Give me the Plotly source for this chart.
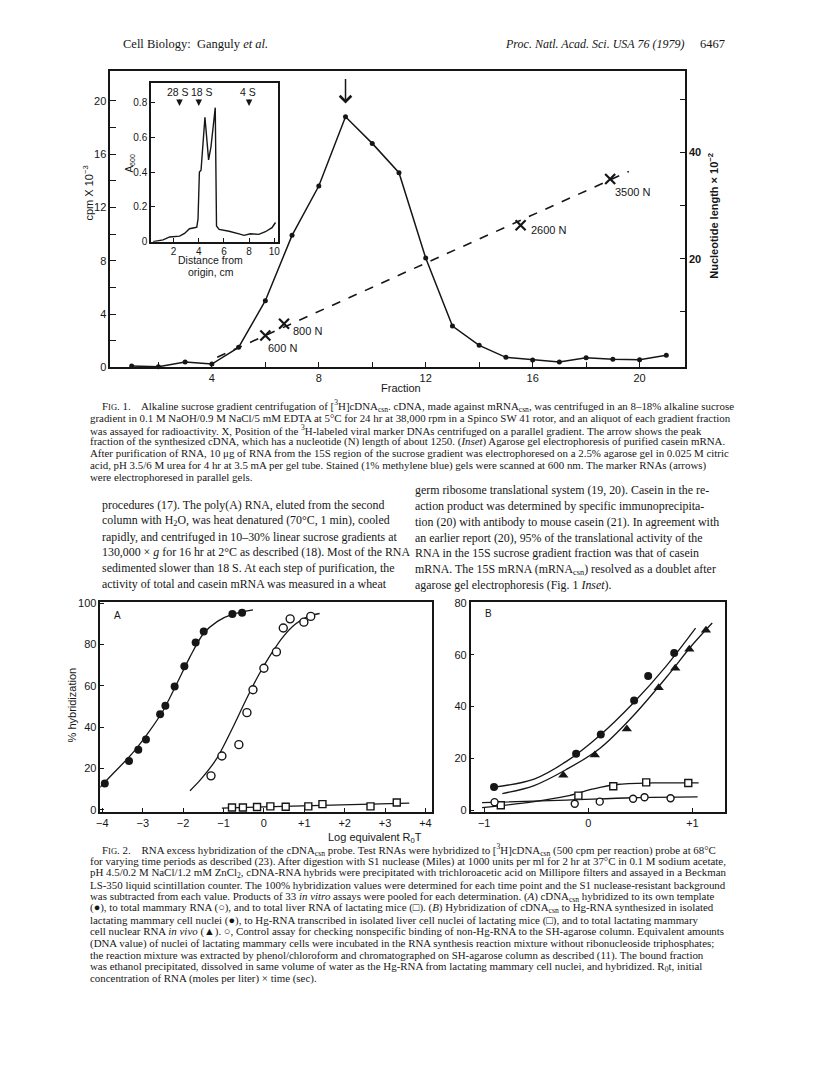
import plotly.graph_objects as go

W, H = 816, 1078
OFF = 8  # page body margin of the html output
INK = "#161616"
SANS = "Liberation Sans"
SERIF = "Liberation Serif"

# ---- Fig. 1: alkaline sucrose gradient ----
fraction = [1, 2, 3, 4, 5, 6, 7, 8, 9, 10, 11, 12, 13, 14, 15, 16, 17, 18, 19, 20, 21]
cpm = [0.1, 0.05, 0.4, 0.25, 1.5, 5.0, 9.9, 13.6, 18.8, 16.8, 14.6, 8.2, 3.1, 1.65,
       0.75, 0.55, 0.4, 0.72, 0.6, 0.57, 0.9]

marker_fraction = [6.0, 6.7, 15.55, 18.9]
marker_length = [5.6, 7.8, 26.3, 35.0]          # nucleotide length x 10^-2
marker_labels = ["600 N", "800 N", "2600 N", "3500 N"]
fit_fraction = [4.2, 19.6]
fit_length = [1.5, 36.4]

peak_fraction = 9

# inset: agarose gel scan
gel_distance = [0.37, 1.16, 1.69, 2.47, 2.87, 3.26, 3.65, 3.84, 3.94, 4.05, 4.18, 4.49,
                4.78, 4.97, 5.31, 5.41, 5.62, 6.41, 7.2, 7.6, 8.1, 8.77, 9.3, 9.82, 10.1]
gel_a600 = [0.0, 0.01, 0.027, 0.032, 0.047, 0.074, 0.08, 0.083, 0.13, 0.40, 0.41, 0.715,
            0.47, 0.545, 0.77, 0.09, 0.07, 0.06, 0.045, 0.036, 0.045, 0.042, 0.057, 0.08, 0.11]
rna_markers = ["28 S", "18 S", "4 S"]
rna_label_pos = [2.34, 4.23, 7.94]
rna_marker_pos = [2.47, 4.0, 8.0]

# ---- Fig. 2A ----
a_template_x = [-3.94, -3.34, -3.11, -2.92, -2.57, -2.44, -2.21, -1.97, -1.69, -1.49, -0.78, -0.54]
a_template_y = [12.7, 23.6, 29.0, 34.0, 46.2, 50.3, 59.6, 69.4, 81.0, 86.3, 94.7, 95.4]
a_template_fit_x = [-4.08, -3.71, -3.27, -2.83, -2.5, -2.17, -1.83, -1.5, -1.15, -0.77, -0.27]
a_template_fit_y = [10.4, 18.0, 27.0, 38.2, 47.8, 60.5, 74.0, 85.2, 91.2, 94.7, 96.8]

a_mammary_x = [-1.31, -1.04, -0.62, -0.42, -0.27, 0.0, 0.31, 0.48, 0.65, 0.99, 1.16]
a_mammary_y = [16.4, 26.0, 31.5, 47.0, 58.1, 68.5, 76.4, 88.0, 92.4, 90.8, 93.6]
a_mammary_fit_x = [-1.83, -1.58, -1.17, -0.77, -0.46, -0.15, 0.16, 0.47, 0.79, 1.1, 1.38]
a_mammary_fit_y = [9.2, 14.3, 24.7, 39.8, 52.5, 64.5, 74.8, 83.6, 90.0, 93.6, 95.0]

a_liver_x = [-0.79, -0.52, -0.17, 0.16, 0.54, 1.1, 1.45, 2.64, 3.29]
a_liver_y = [1.1, 1.1, 1.3, 1.6, 1.4, 1.6, 2.7, 1.6, 3.5]
a_liver_fit_x = [-1.04, 3.6]
a_liver_fit_y = [0.8, 3.2]

# ---- Fig. 2B ----
b_mammary_x = [-0.905, -0.117, 0.12, 0.44, 0.575, 0.825]
b_mammary_y = [9.0, 21.8, 29.3, 42.3, 51.8, 60.6]
b_mammary_fit_x = [-0.905, -0.52, -0.21, 0.11, 0.43, 0.75, 1.03]
b_mammary_fit_y = [9.0, 12.1, 18.9, 28.9, 41.3, 55.7, 70.2]

b_invivo_x = [-0.24, 0.063, 0.37, 0.676, 0.835, 0.97, 1.13]
b_invivo_y = [13.6, 21.4, 31.4, 47.3, 54.8, 62.1, 69.4]
b_invivo_fit_x = [-0.825, -0.52, -0.21, 0.11, 0.43, 0.75, 1.0, 1.19]
b_invivo_fit_y = [6.5, 9.6, 15.8, 23.9, 36.4, 51.3, 63.8, 72.2]

b_liver_x = [-0.84, -0.095, 0.24, 0.556, 0.96]
b_liver_y = [2.0, 5.7, 9.3, 10.8, 10.6]
b_liver_fit_x = [-1.02, -0.52, -0.21, 0.048, 0.27, 0.62, 1.06]
b_liver_fit_y = [1.1, 3.4, 5.5, 8.3, 10.0, 10.6, 10.6]

b_control_x = [-0.9, -0.13, 0.11, 0.43, 0.54, 0.79]
b_control_y = [3.2, 2.6, 3.4, 4.5, 5.1, 4.7]
b_control_fit_x = [-1.02, -0.21, 0.43, 1.05]
b_control_fit_y = [3.0, 4.0, 4.9, 5.2]

# ---- page text ----
fig1_caption = [
    "F<span style='font-size:8.5px'>IG</span>. 1.    Alkaline sucrose gradient centrifugation of [<sup>3</sup>H]cDNA<sub>csn</sub>. cDNA, made against mRNA<sub>csn</sub>, was centrifuged in an 8–18% alkaline sucrose",
    "gradient in 0.1 M NaOH/0.9 M NaCl/5 mM EDTA at 5°C for 24 hr at 38,000 rpm in a Spinco SW 41 rotor, and an aliquot of each gradient fraction",
    "was assayed for radioactivity. X, Position of the <sup>3</sup>H-labeled viral marker DNAs centrifuged on a parallel gradient. The arrow shows the peak",
    "fraction of the synthesized cDNA, which has a nucleotide (N) length of about 1250. (<i>Inset</i>) Agarose gel electrophoresis of purified casein mRNA.",
    "After purification of RNA, 10 μg of RNA from the 15S region of the sucrose gradient was electrophoresed on a 2.5% agarose gel in 0.025 M citric",
    "acid, pH 3.5/6 M urea for 4 hr at 3.5 mA per gel tube. Stained (1% methylene blue) gels were scanned at 600 nm. The marker RNAs (arrows)",
    "were electrophoresed in parallel gels.",
]
body_left = [
    "procedures (17). The poly(A) RNA, eluted from the second",
    "column with H<sub>2</sub>O, was heat denatured (70°C, 1 min), cooled",
    "rapidly, and centrifuged in 10–30% linear sucrose gradients at",
    "130,000 × <i>g</i> for 16 hr at 2°C as described (18). Most of the RNA",
    "sedimented slower than 18 S. At each step of purification, the",
    "activity of total and casein mRNA was measured in a wheat",
]
body_right = [
    "germ ribosome translational system (19, 20). Casein in the re-",
    "action product was determined by specific immunoprecipita-",
    "tion (20) with antibody to mouse casein (21). In agreement with",
    "an earlier report (20), 95% of the translational activity of the",
    "RNA in the 15S sucrose gradient fraction was that of casein",
    "mRNA. The 15S mRNA (mRNA<sub>csn</sub>) resolved as a doublet after",
    "agarose gel electrophoresis (Fig. 1 <i>Inset</i>).",
]
fig2_caption = [
    "F<span style='font-size:8.5px'>IG</span>. 2.    RNA excess hybridization of the cDNA<sub>csn</sub> probe. Test RNAs were hybridized to [<sup>3</sup>H]cDNA<sub>csn</sub> (500 cpm per reaction) probe at 68°C",
    "for varying time periods as described (23). After digestion with S1 nuclease (Miles) at 1000 units per ml for 2 hr at 37°C in 0.1 M sodium acetate,",
    "pH 4.5/0.2 M NaCl/1.2 mM ZnCl<sub>2</sub>, cDNA-RNA hybrids were precipitated with trichloroacetic acid on Millipore filters and assayed in a Beckman",
    "LS-350 liquid scintillation counter. The 100% hybridization values were determined for each time point and the S1 nuclease-resistant background",
    "was subtracted from each value. Products of 33 <i>in vitro</i> assays were pooled for each determination. (<i>A</i>) cDNA<sub>csn</sub> hybridized to its own template",
    "(●), to total mammary RNA (○), and to total liver RNA of lactating mice (□). (<i>B</i>) Hybridization of cDNA<sub>csn</sub> to Hg-RNA synthesized in isolated",
    "lactating mammary cell nuclei (●), to Hg-RNA transcribed in isolated liver cell nuclei of lactating mice (□), and to total lactating mammary",
    "cell nuclear RNA <i>in vivo</i> (▲). ○, Control assay for checking nonspecific binding of non-Hg-RNA to the SH-agarose column. Equivalent amounts",
    "(DNA value) of nuclei of lactating mammary cells were incubated in the RNA synthesis reaction mixture without ribonucleoside triphosphates;",
    "the reaction mixture was extracted by phenol/chloroform and chromatographed on SH-agarose column as described (11). The bound fraction",
    "was ethanol precipitated, dissolved in same volume of water as the Hg-RNA from lactating mammary cell nuclei, and hybridized. R<sub>0</sub>t, initial",
    "concentration of RNA (moles per liter) × time (sec).",
]


def px(x):
    return (x - OFF) / W


def py(y):
    return 1 - (y - OFF) / H


fig = go.Figure()

# Fig. 1 main
fig.add_trace(go.Scatter(x=fraction, y=cpm, mode="lines+markers", xaxis="x", yaxis="y",
                         line=dict(color=INK, width=1.5), marker=dict(size=5, color=INK),
                         cliponaxis=False))
fig.add_trace(go.Scatter(x=fit_fraction, y=fit_length, mode="lines", xaxis="x", yaxis="y2",
                         line=dict(color=INK, width=1.6, dash="dash")))
fig.add_trace(go.Scatter(x=marker_fraction, y=marker_length, mode="markers", xaxis="x", yaxis="y2",
                         marker=dict(symbol="x-thin", size=10, line=dict(color=INK, width=2.2))))

# inset
fig.add_trace(go.Scatter(x=gel_distance, y=gel_a600, mode="lines", xaxis="x3", yaxis="y3",
                         line=dict(color=INK, width=1.4)))

# Fig. 2A
for fx, fy in [(a_template_fit_x, a_template_fit_y), (a_mammary_fit_x, a_mammary_fit_y),
               (a_liver_fit_x, a_liver_fit_y)]:
    fig.add_trace(go.Scatter(x=fx, y=fy, mode="lines", xaxis="x4", yaxis="y4",
                             line=dict(color=INK, width=1.3, shape="spline", smoothing=0.8)))
fig.add_trace(go.Scatter(x=a_template_x, y=a_template_y, mode="markers", xaxis="x4", yaxis="y4",
                         marker=dict(symbol="circle", size=8, color=INK)))
fig.add_trace(go.Scatter(x=a_mammary_x, y=a_mammary_y, mode="markers", xaxis="x4", yaxis="y4",
                         marker=dict(symbol="circle", size=8, color="white", line=dict(color=INK, width=1.4))))
fig.add_trace(go.Scatter(x=a_liver_x, y=a_liver_y, mode="markers", xaxis="x4", yaxis="y4", cliponaxis=False,
                         marker=dict(symbol="square", size=7, color="white", line=dict(color=INK, width=1.4))))

# Fig. 2B
for fx, fy in [(b_mammary_fit_x, b_mammary_fit_y), (b_invivo_fit_x, b_invivo_fit_y),
               (b_liver_fit_x, b_liver_fit_y), (b_control_fit_x, b_control_fit_y)]:
    fig.add_trace(go.Scatter(x=fx, y=fy, mode="lines", xaxis="x5", yaxis="y5",
                             line=dict(color=INK, width=1.3, shape="spline", smoothing=1.0)))
fig.add_trace(go.Scatter(x=b_mammary_x, y=b_mammary_y, mode="markers", xaxis="x5", yaxis="y5",
                         marker=dict(symbol="circle", size=8, color=INK)))
fig.add_trace(go.Scatter(x=b_invivo_x, y=b_invivo_y, mode="markers", xaxis="x5", yaxis="y5",
                         marker=dict(symbol="triangle-up", size=9, color=INK)))
fig.add_trace(go.Scatter(x=b_liver_x, y=b_liver_y, mode="markers", xaxis="x5", yaxis="y5",
                         marker=dict(symbol="square", size=7, color="white", line=dict(color=INK, width=1.4))))
fig.add_trace(go.Scatter(x=b_control_x, y=b_control_y, mode="markers", xaxis="x5", yaxis="y5",
                         marker=dict(symbol="circle", size=7, color="white", line=dict(color=INK, width=1.4))))

tickfont = dict(family=SANS, size=11, color=INK)


def axis(domain, rng, tickvals, ticktext, anchor, ticklen=6, **kw):
    d = dict(domain=domain, range=rng, tickvals=tickvals, ticktext=ticktext, anchor=anchor,
             ticks="inside", ticklen=ticklen, tickwidth=1.3, tickcolor=INK,
             showline=True, linecolor=INK, linewidth=1.5, showgrid=False, zeroline=False,
             tickfont=tickfont)
    d.update(kw)
    return d


f1x = [px(107), px(686)]
f1y = [py(366), py(67)]
inx = [px(148), px(276)]
iny = [py(239), py(79)]
ax_ = [px(97), px(431)]
bx_ = [px(470), px(726)]
f2y = [py(815), py(603)]
small = dict(family=SANS, size=10, color=INK)

fig.update_layout(
    width=W, height=H, autosize=False, showlegend=False,
    margin=dict(l=0, r=0, t=0, b=0),
    paper_bgcolor="white", plot_bgcolor="rgba(0,0,0,0)",
    xaxis=axis(f1x, [0.2, 21.7], list(range(2, 22, 2)),
               [str(v) if v % 4 == 0 else "" for v in range(2, 22, 2)], "y", mirror=True),
    yaxis=axis(f1y, [0, 22.2], list(range(0, 22, 2)),
               [str(v) if v % 4 == 0 else "" for v in range(0, 22, 2)], "x"),
    yaxis2=axis(f1y, [-0.4, 55.2], [10, 20, 30, 40, 50], ["", "20", "", "40", ""], "x",
                overlaying="y", side="right", ticklen=5,
                tickfont=dict(family=SANS, size=11, color=INK, weight="bold")),
    xaxis3=axis(inx, [0.2, 10.3], [2, 4, 6, 8, 10], ["2", "4", "6", "8", "10"], "y3",
                mirror=True, ticklen=4, tickfont=small),
    yaxis3=axis(iny, [0, 0.91], [0, 0.2, 0.4, 0.6, 0.8], ["0", "0.2", "0.4", "0.6", "0.8"], "x3",
                mirror=True, ticklen=4, tickfont=small),
    xaxis4=axis(ax_, [-4.05, 4.16], list(range(-4, 5)),
                ["−4", "−3", "−2", "−1", "0", "+1", "+2", "+3", "+4"], "y4", mirror=True, ticklen=4),
    yaxis4=axis(f2y, [-1, 100.6], [0, 20, 40, 60, 80, 100], ["0", "20", "40", "60", "80", "100"], "x4",
                mirror=True, ticklen=4),
    xaxis5=axis(bx_, [-1.13, 1.31], [-1, 0, 1], ["−1", "0", "+1"], "y5", mirror=True, ticklen=4),
    yaxis5=axis(f2y, [-0.5, 80.3], [0, 20, 40, 60, 80], ["0", "20", "40", "60", "80"], "x5",
                mirror=True, ticklen=4),
)

ann = []


def text(x, y, s, size, family=SERIF, anchor="left", angle=0, **kw):
    d = dict(xref="paper", yref="paper", x=px(x), y=py(y), text=s, showarrow=False,
             xanchor=anchor, yanchor="middle", textangle=angle,
             font=dict(family=family, size=size, color=INK))
    d.update(kw)
    ann.append(d)


# running head
text(118, 39, "Cell Biology:  Ganguly <i>et al.</i>", 12.5)
text(503, 39, "<i>Proc. Natl. Acad. Sci. USA 76 (1979)</i>", 12)
text(728, 39, "6467", 12.5, anchor="right")

# Fig. 1 axis titles and labels
text(85, 190, "cpm X 10<sup>−3</sup>", 11, SANS, "center", -90)
text(714, 213, "<b>Nucleotide length × 10<sup>−2</sup></b>", 11, SANS, "center", -90)
text(400, 387, "Fraction", 11, SANS, "center")
text(127, 160, "A<sub>600</sub>", 10, SANS, "center", -90)
text(208, 258, "Distance from", 10.5, SANS, "center")
text(208, 270, "origin, cm", 10.5, SANS, "center")

shifts = [(1, -13), (7, -7), (8, -5), (3, -13)]
for xv, yv, lab, (dx, dy) in zip(marker_fraction, marker_length, marker_labels, shifts):
    ann.append(dict(xref="x", yref="y2", x=xv, y=yv, text=lab, showarrow=False,
                    xanchor="left", yanchor="middle", xshift=dx, yshift=dy,
                    font=dict(family=SANS, size=11, color=INK)))

# peak arrow (open head)
ann.append(dict(xref="x", yref="y", x=peak_fraction, y=cpm[fraction.index(peak_fraction)] + 1.0,
                ax=0, ay=-26, showarrow=True, arrowhead=4, arrowsize=1.5, arrowwidth=1.5,
                arrowcolor=INK, text=""))

# inset RNA markers
for lab, xl, xv in zip(rna_markers, rna_label_pos, rna_marker_pos):
    ann.append(dict(xref="x3", yref="y3", x=xl, y=0.86, text=lab, showarrow=False,
                    xanchor="center", yanchor="middle",
                    font=dict(family=SANS, size=10.5, color=INK)))
    ann.append(dict(xref="x3", yref="y3", x=xv, y=0.78, ax=0, ay=-8, showarrow=True,
                    arrowhead=2, arrowsize=1, arrowwidth=1.3, arrowcolor=INK, text=""))

# Fig. 1 caption
for i, s in enumerate(fig1_caption):
    text(97 if i == 0 else 85, 405 + 12 * i, s, 10.9)

# body text
for i, s in enumerate(body_left):
    text(97, 505 + 16 * i, s, 11.9)
for i, s in enumerate(body_right):
    text(412, 490 + 16 * i, s, 11.9)

# Fig. 2 labels
text(109, 617, "A", 10, SANS)
text(482, 615, "B", 10, SANS)
text(68, 707, "% hybridization", 11, SANS, "center", -90)
text(374, 842, "Log equivalent R<sub>0</sub>T", 11, SANS, "center")

# Fig. 2 caption
for i, s in enumerate(fig2_caption):
    text(97 if i == 0 else 85, 853.6 + 11.8 * i, s, 10.9)

fig.update_layout(annotations=ann)
fig.write_html("out.html")
